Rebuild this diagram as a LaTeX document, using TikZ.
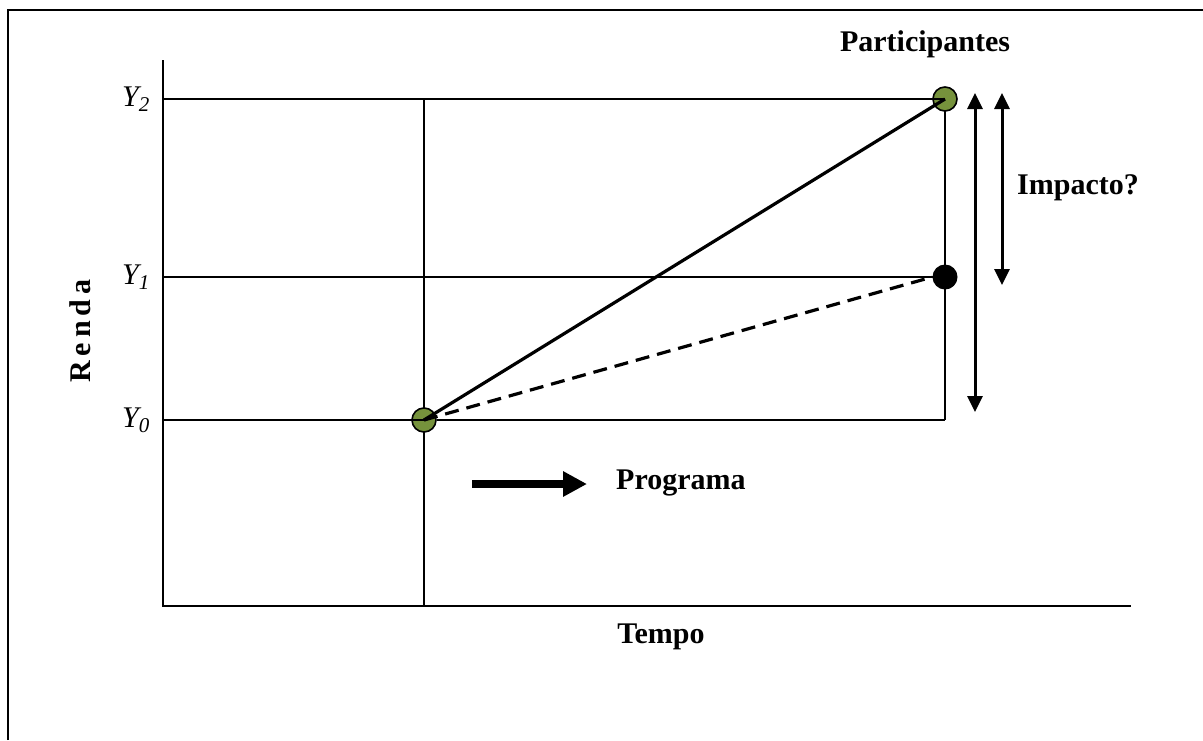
\documentclass[tikz,border=0pt]{standalone}
\usepackage{fontspec}
\setmainfont{Liberation Serif}
\usetikzlibrary{arrows.meta}
\begin{document}
\begin{tikzpicture}[x=1pt,y=-1pt,
  thin line/.style={line width=2pt},
  gdot/.style={circle,draw=black,line width=1.6pt,minimum size=24pt,inner sep=0pt},
  bdot/.style={circle,fill=black,minimum size=25pt,inner sep=0pt},
  lbl/.style={font=\fontsize{30}{36}\selectfont\bfseries,inner sep=0pt},
  ylbl/.style={font=\fontsize{30}{36}\selectfont\itshape,inner sep=0pt,anchor=east},
  dbl/.style={line width=3pt,{Triangle[length=16pt,width=15pt]}-{Triangle[length=16pt,width=15pt]}}
]
\useasboundingbox (0,0) rectangle (1203,740);
\definecolor{gfill}{RGB}{118,146,60}
% frame
\draw[line width=2pt] (8,740) -- (8,10) -- (1203,10);
% axes
\coordinate (ytop) at (163,60);
\coordinate (orig) at (163,606);
\coordinate (xend) at (1131,606);
\draw[thin line] (ytop) -- (orig) -- (xend);
% vertical guides
\coordinate (v0b) at (424,606);
\coordinate (v0t) at (424,99);
\draw[thin line] (v0t) -- (v0b);
\coordinate (v1t) at (945,99);
\coordinate (v1b) at (945,420);
\draw[thin line] (v1t) -- (v1b);
% points
\node[gdot,fill=gfill] (p0) at (424,420) {};
\node[gdot,fill=gfill] (p2) at (945,99) {};
\node[bdot] (p1) at (945,277) {};
% horizontal levels
\coordinate (a2) at (163,99);
\coordinate (a1) at (163,277);
\coordinate (a0) at (163,420);
\draw[thin line] (a2) -- (p2.center);
\draw[thin line] (a1) -- (p1.center);
\draw[thin line] (a0) -- (p0.center);
\draw[thin line] (p0.east) -- (v1b);
% trajectories
\draw[line width=3.2pt] (p0.center) -- (p2.center);
\draw[line width=3.2pt,dash pattern=on 14pt off 8pt] (p0.center) -- (p1.west);
% impact arrows
\coordinate (d1t) at (975,93);
\coordinate (d1b) at (975,412);
\coordinate (d2t) at (1002,93);
\coordinate (d2b) at (1002,285);
\draw[dbl] (d1t) -- (d1b);
\draw[dbl] (d2t) -- (d2b);
% programa arrow
\coordinate (pa0) at (472,484);
\coordinate (pa1) at (587,484);
\draw[line width=8pt,-{Triangle[length=24pt,width=24pt]}] (pa0) -- (pa1);
% labels
\node[ylbl] (y2) at (150,99) {Y\textsubscript{2}};
\node[ylbl] (y1) at (150,277) {Y\textsubscript{1}};
\node[ylbl] (y0) at (150,420) {Y\textsubscript{0}};
\node[lbl] (part) at (925,44) {Participantes};
\node[lbl,anchor=west] (imp) at (1017,188) {Impacto?};
\node[lbl,anchor=west] (prog) at (616,483) {Programa};
\node[lbl] (tempo) at (661,637) {Tempo};
\node[lbl,rotate=90] (renda) at (80,331) {R\kern5pt e\kern5pt n\kern5pt d\kern5pt a};
\end{tikzpicture}
\end{document}
